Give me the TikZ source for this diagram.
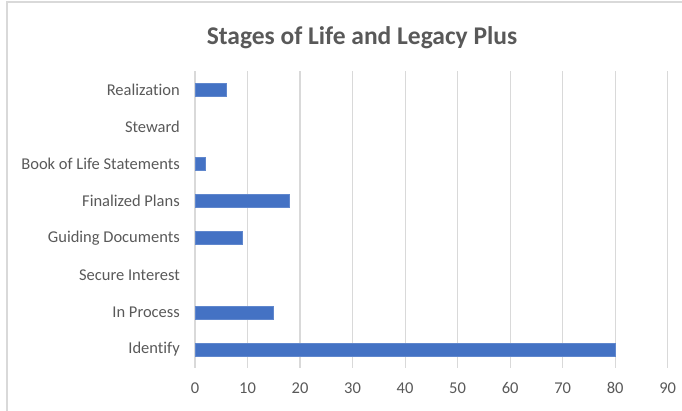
\documentclass[tikz,border=0pt]{standalone}
\usepackage{fontspec}
\setmainfont[Ligatures=NoCommon]{Carlito}
\definecolor{txtgray}{HTML}{595959}
\definecolor{gridgray}{HTML}{D9D9D9}
\definecolor{barblue}{HTML}{4472C4}
\tikzset{
  catlabel/.style={anchor=east, inner sep=0pt, text=txtgray, font=\fontsize{16.5}{18}\selectfont},
  ticklabel/.style={anchor=center, inner sep=0pt, text=txtgray, font=\fontsize{16.5}{18}\selectfont},
  gridline/.style={draw=gridgray, line width=1.1pt},
  barfill/.style={fill=barblue, draw=barblue!85!white, line width=0.6pt},
  chartframe/.style={draw=gridgray, line width=1.5pt},
  charttitle/.style={anchor=center, inner sep=0pt, text=txtgray, font=\fontsize{25.5}{28}\selectfont\bfseries}
}
\begin{document}
\begin{tikzpicture}[x=1pt,y=-1pt]
\useasboundingbox (0,0) rectangle (682,410);
% frame (cropped at right and bottom)
\coordinate (fbl) at (7,412);
\coordinate (ftl) at (7,2);
\coordinate (ftr) at (684,2);
\draw[chartframe] (fbl) -- (ftl) -- (ftr);
% title
\node[charttitle] (title) at (362,38) {Stages of Life and Legacy Plus};
% gridlines and tick labels
\foreach \v in {0,10,...,90} {
  \coordinate (gt\v) at ({195+5.252*\v},71);
  \coordinate (gb\v) at ({195+5.252*\v},368);
  \draw[gridline] (gt\v) -- (gb\v);
  \node[ticklabel] (tick\v) at ({195+5.252*\v},388) {\v};
}
% categories: name / value / index from top
\foreach \lab/\val/\i/\nm in {Realization/6/0/c0, Steward/0/1/c1, Book of Life Statements/2/2/c2, Finalized Plans/18/3/c3, Guiding Documents/9/4/c4, Secure Interest/0/5/c5, In Process~/15/6/c6, Identify/80/7/c7} {
  \node[catlabel] (\nm) at (180,{89.8+37.1*\i}) {\lab};
  \ifnum\val>0
    \fill[barfill] (195.6,{89.8+37.1*\i-6.5}) rectangle ({195+5.252*\val},{89.8+37.1*\i+6.5});
  \fi
}
\end{tikzpicture}
\end{document}
